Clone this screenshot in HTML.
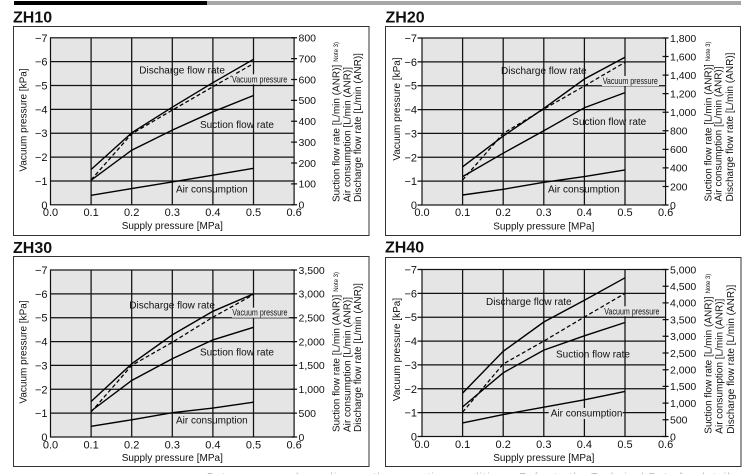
<!DOCTYPE html>
<html>
<head>
<meta charset="utf-8">
<style>
  html,body{margin:0;padding:0;background:#fff;}
  body{width:750px;height:474px;overflow:hidden;}
  svg{display:block;font-family:"Liberation Sans",Arial,sans-serif;}
  .t{font-size:11px;fill:#111;}
  .r{font-size:10.5px;fill:#111;}
  .l{font-size:10px;fill:#111;}
  .title{font-size:16px;font-weight:bold;fill:#111;}
  .grid{stroke:#111;stroke-width:1.25;fill:none;}
  .c{stroke:#000;stroke-width:1.4;fill:none;}
  .d{stroke:#000;stroke-width:1.25;fill:none;stroke-dasharray:4 2.5;}
</style>
</head>
<body>
<svg width="750" height="474" viewBox="0 0 750 474" xmlns="http://www.w3.org/2000/svg">
  <!-- top bar -->
  <rect x="14" y="1" width="193" height="4" fill="#000"/>
  <rect x="207" y="1" width="534" height="4" fill="#a6a6a6"/>

  <!-- boxes -->
  <rect x="13.5" y="26.5" width="355.5" height="209" fill="none" stroke="#333" stroke-width="1"/>
  <rect x="385.5" y="26.5" width="355" height="209" fill="none" stroke="#333" stroke-width="1"/>
  <rect x="13.5" y="256.5" width="355.5" height="210" fill="none" stroke="#333" stroke-width="1"/>
  <rect x="385.5" y="257.5" width="355.5" height="209" fill="none" stroke="#333" stroke-width="1"/>

  <!-- titles -->
  <text class="title" x="13" y="22.5">ZH10</text>
  <text class="title" x="385.5" y="22.5">ZH20</text>
  <text class="title" x="13" y="253">ZH30</text>
  <text class="title" x="385" y="252.7">ZH40</text>

  <!-- Y axis titles -->
  <text class="l" text-anchor="middle" transform="translate(26.5,120) rotate(-90)">Vacuum pressure [kPa]</text>
  <text class="l" text-anchor="middle" transform="translate(400,109) rotate(-90)">Vacuum pressure [kPa]</text>
  <text class="l" text-anchor="middle" transform="translate(26.5,352) rotate(-90)">Vacuum pressure [kPa]</text>
  <text class="l" text-anchor="middle" transform="translate(400,349.5) rotate(-90)">Vacuum pressure [kPa]</text>

  <!-- right axis titles -->
  <text class="l" transform="translate(339.5,202) rotate(-90)">Suction flow rate [L/min (ANR)]<tspan dx="3" dy="-1.5" font-size="6">Note 3)</tspan></text>
  <text class="l" transform="translate(350.5,202) rotate(-90)">Air consumption [L/min (ANR)]</text>
  <text class="l" transform="translate(361,202) rotate(-90)">Discharge flow rate [L/min (ANR)]</text>

  <text class="l" transform="translate(711.5,201.5) rotate(-90)">Suction flow rate [L/min (ANR)]<tspan dx="3" dy="-1.5" font-size="6">Note 3)</tspan></text>
  <text class="l" transform="translate(721.5,201.5) rotate(-90)">Air consumption [L/min (ANR)]</text>
  <text class="l" transform="translate(733,201.5) rotate(-90)">Discharge flow rate [L/min (ANR)]</text>

  <text class="l" transform="translate(339.5,432) rotate(-90)">Suction flow rate [L/min (ANR)]<tspan dx="3" dy="-1.5" font-size="6">Note 3)</tspan></text>
  <text class="l" transform="translate(350.7,432) rotate(-90)">Air consumption [L/min (ANR)]</text>
  <text class="l" transform="translate(361,432) rotate(-90)">Discharge flow rate [L/min (ANR)]</text>

  <text class="l" transform="translate(711.5,433.7) rotate(-90)">Suction flow rate [L/min (ANR)]<tspan dx="3" dy="-1.5" font-size="6">Note 3)</tspan></text>
  <text class="l" transform="translate(722.5,433.7) rotate(-90)">Air consumption [L/min (ANR)]</text>
  <text class="l" transform="translate(734,433.7) rotate(-90)">Discharge flow rate [L/min (ANR)]</text>

  <!-- ================= ZH10 ================= -->
  <g transform="translate(50.5,204.8)">
    <rect x="0" y="-167" width="243.6" height="167" fill="#e5e5e5"/>
    <path class="grid" d="M40.6 -167V0M81.2 -167V0M121.8 -167V0M162.4 -167V0M203 -167V0M0 -23.86H243.6M0 -47.71H243.6M0 -71.57H243.6M0 -95.43H243.6M0 -119.29H243.6M0 -143.14H243.6"/>
    <rect x="0" y="-167" width="243.6" height="167" fill="none" stroke="#111" stroke-width="1.2"/>
    <path class="grid" d="M240.6 0H246.6M240.6 -20.88H246.6M240.6 -41.75H246.6M240.6 -62.63H246.6M240.6 -83.5H246.6M240.6 -104.38H246.6M240.6 -125.25H246.6M240.6 -146.13H246.6M240.6 -167H246.6"/>
    <g class="t" text-anchor="end">
      <text x="-3" y="4">0</text>
      <text x="-3" y="-19.86">−1</text>
      <text x="-3" y="-43.71">−2</text>
      <text x="-3" y="-67.57">−3</text>
      <text x="-3" y="-91.43">−4</text>
      <text x="-3" y="-115.29">−5</text>
      <text x="-3" y="-139.14">−6</text>
      <text x="-3" y="-163">−7</text>
    </g>
    <g class="t" text-anchor="middle">
      <text x="0" y="11">0.0</text>
      <text x="40.6" y="11">0.1</text>
      <text x="81.2" y="11">0.2</text>
      <text x="121.8" y="11">0.3</text>
      <text x="162.4" y="11">0.4</text>
      <text x="203" y="11">0.5</text>
      <text x="243.6" y="11">0.6</text>
    </g>
    <text class="l" x="121.8" y="24.3" text-anchor="middle">Supply pressure [MPa]</text>
    <g class="r">
      <text x="248" y="3.8">0</text>
      <text x="248" y="-17.08">100</text>
      <text x="248" y="-37.95">200</text>
      <text x="248" y="-58.83">300</text>
      <text x="248" y="-79.7">400</text>
      <text x="248" y="-100.58">500</text>
      <text x="248" y="-121.45">600</text>
      <text x="248" y="-142.33">700</text>
      <text x="248" y="-163.2">800</text>
    </g>
    <polyline class="c" points="40.6,-35.3 81.2,-72.0 121.8,-97.6 162.4,-122.1 203,-145.5"/>
    <polyline class="d" points="40.6,-25.0 81.2,-70.9 121.8,-94.7 162.4,-118.1 203,-141.2"/>
    <polyline class="c" points="40.6,-24.6 81.2,-54.6 121.8,-74.7 162.4,-93.0 203,-109.3"/>
    <polyline class="c" points="40.6,-9.5 81.2,-16.2 121.8,-22.9 162.4,-29.6 203,-36.5"/>
    <text class="l" x="88.8" y="-131.3">Discharge flow rate</text>
    <rect x="181" y="-130.5" width="57" height="10" fill="#e5e5e5"/>
    <text font-size="9.5" fill="#111" transform="translate(181.5,-122.3) scale(0.75,1)">Vacuum pressure</text>
    <text class="l" x="149.5" y="-76.8">Suction flow rate</text>
    <text class="l" x="125.5" y="-12.5">Air consumption</text>
  </g>

  <!-- ================= ZH20 ================= -->
  <g transform="translate(422,205)">
    <rect x="0" y="-167" width="243.6" height="167" fill="#e5e5e5"/>
    <path class="grid" d="M40.6 -167V0M81.2 -167V0M121.8 -167V0M162.4 -167V0M203 -167V0M0 -23.86H243.6M0 -47.71H243.6M0 -71.57H243.6M0 -95.43H243.6M0 -119.29H243.6M0 -143.14H243.6"/>
    <rect x="0" y="-167" width="243.6" height="167" fill="none" stroke="#111" stroke-width="1.2"/>
    <path class="grid" d="M-4.5 0H0M-4.5 -23.86H0M-4.5 -47.71H0M-4.5 -71.57H0M-4.5 -95.43H0M-4.5 -119.29H0M-4.5 -143.14H0M-4.5 -167H0"/>
    <path class="grid" d="M240.6 0H246.6M240.6 -18.56H246.6M240.6 -37.11H246.6M240.6 -55.67H246.6M240.6 -74.22H246.6M240.6 -92.78H246.6M240.6 -111.33H246.6M240.6 -129.89H246.6M240.6 -148.44H246.6M240.6 -167H246.6"/>
    <g class="t" text-anchor="end">
      <text x="-5" y="4">0</text>
      <text x="-5" y="-19.86">−1</text>
      <text x="-5" y="-43.71">−2</text>
      <text x="-5" y="-67.57">−3</text>
      <text x="-5" y="-91.43">−4</text>
      <text x="-5" y="-115.29">−5</text>
      <text x="-5" y="-139.14">−6</text>
      <text x="-5" y="-163">−7</text>
    </g>
    <g class="t" text-anchor="middle">
      <text x="0" y="11">0.0</text>
      <text x="40.6" y="11">0.1</text>
      <text x="81.2" y="11">0.2</text>
      <text x="121.8" y="11">0.3</text>
      <text x="162.4" y="11">0.4</text>
      <text x="203" y="11">0.5</text>
      <text x="243.6" y="11">0.6</text>
    </g>
    <text class="l" x="121.8" y="24.3" text-anchor="middle">Supply pressure [MPa]</text>
    <g class="r">
      <text x="248" y="3.8">0</text>
      <text x="248" y="-14.76">200</text>
      <text x="248" y="-33.31">400</text>
      <text x="248" y="-51.87">600</text>
      <text x="248" y="-70.42">800</text>
      <text x="248" y="-88.98">1,000</text>
      <text x="248" y="-107.53">1,200</text>
      <text x="248" y="-126.09">1,400</text>
      <text x="248" y="-144.64">1,600</text>
      <text x="248" y="-163.2">1,800</text>
    </g>
    <polyline class="c" points="40.6,-38.2 81.2,-68.9 121.8,-96.6 162.4,-126.0 203,-147.7"/>
    <polyline class="d" points="40.6,-25.0 81.2,-71.6 121.8,-95.9 162.4,-119.0 203,-142.7"/>
    <polyline class="c" points="40.6,-28.4 81.2,-51.8 121.8,-74.2 162.4,-97.3 203,-112.4"/>
    <polyline class="c" points="40.6,-10.0 81.2,-15.7 121.8,-22.7 162.4,-28.4 203,-35.1"/>
    <text class="l" x="79" y="-130.8">Discharge flow rate</text>
    <rect x="180" y="-129" width="57" height="10" fill="#e5e5e5"/>
    <text font-size="9.5" fill="#111" transform="translate(180.7,-121) scale(0.75,1)">Vacuum pressure</text>
    <text class="l" x="150.3" y="-80">Suction flow rate</text>
    <text class="l" x="126" y="-12.7">Air consumption</text>
  </g>

  <!-- ================= ZH30 ================= -->
  <g transform="translate(50.5,437)">
    <rect x="0" y="-167" width="243.6" height="167" fill="#e5e5e5"/>
    <path class="grid" d="M40.6 -167V0M81.2 -167V0M121.8 -167V0M162.4 -167V0M203 -167V0M0 -23.86H243.6M0 -47.71H243.6M0 -71.57H243.6M0 -95.43H243.6M0 -119.29H243.6M0 -143.14H243.6"/>
    <rect x="0" y="-167" width="243.6" height="167" fill="none" stroke="#111" stroke-width="1.2"/>
    <path class="grid" d="M240.6 0H246.6M240.6 -23.86H246.6M240.6 -47.71H246.6M240.6 -71.57H246.6M240.6 -95.43H246.6M240.6 -119.29H246.6M240.6 -143.14H246.6M240.6 -167H246.6"/>
    <g class="t" text-anchor="end">
      <text x="-3" y="4">0</text>
      <text x="-3" y="-19.86">−1</text>
      <text x="-3" y="-43.71">−2</text>
      <text x="-3" y="-67.57">−3</text>
      <text x="-3" y="-91.43">−4</text>
      <text x="-3" y="-115.29">−5</text>
      <text x="-3" y="-139.14">−6</text>
      <text x="-3" y="-163">−7</text>
    </g>
    <g class="t" text-anchor="middle">
      <text x="0" y="11.3">0.0</text>
      <text x="40.6" y="11.3">0.1</text>
      <text x="81.2" y="11.3">0.2</text>
      <text x="121.8" y="11.3">0.3</text>
      <text x="162.4" y="11.3">0.4</text>
      <text x="203" y="11.3">0.5</text>
      <text x="243.6" y="11.3">0.6</text>
    </g>
    <text class="l" x="121.8" y="24" text-anchor="middle">Supply pressure [MPa]</text>
    <g class="r">
      <text x="248" y="3.8">0</text>
      <text x="248" y="-20.06">500</text>
      <text x="248" y="-43.91">1,000</text>
      <text x="248" y="-67.77">1,500</text>
      <text x="248" y="-91.63">2,000</text>
      <text x="248" y="-115.49">2,500</text>
      <text x="248" y="-139.34">3,000</text>
      <text x="248" y="-163.2">3,500</text>
    </g>
    <polyline class="c" points="40.6,-35.5 81.2,-73.2 121.8,-102.1 162.4,-125.7 203,-143.1"/>
    <polyline class="d" points="40.6,-25.0 81.2,-71.6 121.8,-94.7 162.4,-119.8 203,-142.4"/>
    <polyline class="c" points="40.6,-26.0 81.2,-56.5 121.8,-78.3 162.4,-97.1 203,-109.7"/>
    <polyline class="c" points="40.6,-10.7 81.2,-17.2 121.8,-24.3 162.4,-28.9 203,-34.8"/>
    <text class="l" x="78.8" y="-128.7">Discharge flow rate</text>
    <rect x="181.3" y="-129.3" width="57" height="10" fill="#e5e5e5"/>
    <text font-size="9.5" fill="#111" transform="translate(181.8,-121.3) scale(0.75,1)">Vacuum pressure</text>
    <text class="l" x="149.5" y="-81.4">Suction flow rate</text>
    <text class="l" x="125.5" y="-13.4">Air consumption</text>
  </g>

  <!-- ================= ZH40 ================= -->
  <g transform="translate(422,436.5)">
    <rect x="0" y="-167" width="243.6" height="167" fill="#e5e5e5"/>
    <path class="grid" d="M40.6 -167V0M81.2 -167V0M121.8 -167V0M162.4 -167V0M203 -167V0M0 -23.86H243.6M0 -47.71H243.6M0 -71.57H243.6M0 -95.43H243.6M0 -119.29H243.6M0 -143.14H243.6"/>
    <rect x="0" y="-167" width="243.6" height="167" fill="none" stroke="#111" stroke-width="1.2"/>
    <path class="grid" d="M-4.5 0H0M-4.5 -23.86H0M-4.5 -47.71H0M-4.5 -71.57H0M-4.5 -95.43H0M-4.5 -119.29H0M-4.5 -143.14H0M-4.5 -167H0"/>
    <path class="grid" d="M240.6 0H246.6M240.6 -16.7H246.6M240.6 -33.4H246.6M240.6 -50.1H246.6M240.6 -66.8H246.6M240.6 -83.5H246.6M240.6 -100.2H246.6M240.6 -116.9H246.6M240.6 -133.6H246.6M240.6 -150.3H246.6M240.6 -167H246.6"/>
    <g class="t" text-anchor="end">
      <text x="-5" y="4">0</text>
      <text x="-5" y="-19.86">−1</text>
      <text x="-5" y="-43.71">−2</text>
      <text x="-5" y="-67.57">−3</text>
      <text x="-5" y="-91.43">−4</text>
      <text x="-5" y="-115.29">−5</text>
      <text x="-5" y="-139.14">−6</text>
      <text x="-5" y="-163">−7</text>
    </g>
    <g class="t" text-anchor="middle">
      <text x="0" y="11.5">0.0</text>
      <text x="40.6" y="11.5">0.1</text>
      <text x="81.2" y="11.5">0.2</text>
      <text x="121.8" y="11.5">0.3</text>
      <text x="162.4" y="11.5">0.4</text>
      <text x="203" y="11.5">0.5</text>
      <text x="243.6" y="11.5">0.6</text>
    </g>
    <text class="l" x="121.8" y="24.3" text-anchor="middle">Supply pressure [MPa]</text>
    <g class="r">
      <text x="248" y="3.8">0</text>
      <text x="248" y="-12.9">500</text>
      <text x="248" y="-29.6">1,000</text>
      <text x="248" y="-46.3">1,500</text>
      <text x="248" y="-63">2,000</text>
      <text x="248" y="-79.7">2,500</text>
      <text x="248" y="-96.4">3,000</text>
      <text x="248" y="-113.1">3,500</text>
      <text x="248" y="-129.8">4,000</text>
      <text x="248" y="-146.5">4,500</text>
      <text x="248" y="-163.2">5,000</text>
    </g>
    <polyline class="c" points="40.6,-43.4 81.2,-85.2 121.8,-114.5 162.4,-136.2 203,-158.7"/>
    <polyline class="d" points="40.6,-24.3 81.2,-72.5 121.8,-95.4 162.4,-119.5 203,-143.1"/>
    <polyline class="c" points="40.6,-29.6 81.2,-63.7 121.8,-86.4 162.4,-100.7 203,-114.0"/>
    <polyline class="c" points="40.6,-13.6 81.2,-21.9 121.8,-29.3 162.4,-36.7 203,-45.1"/>
    <text class="l" x="64" y="-131.5">Discharge flow rate</text>
    <rect x="181.8" y="-130.2" width="57" height="10" fill="#e5e5e5"/>
    <text font-size="9.5" fill="#111" transform="translate(182.3,-122.2) scale(0.75,1)">Vacuum pressure</text>
    <text class="l" x="134" y="-79.2">Suction flow rate</text>
    <rect x="126.7" y="-28.5" width="74" height="11" fill="#e5e5e5"/>
    <text class="l" x="128.7" y="-20.2">Air consumption</text>
  </g>

  <!-- faint cut-off text at bottom (only the tops visible) -->
  <text x="207" y="480" font-size="10" fill="#b0b0b0" textLength="533">Data may vary depending on the operating conditions. Refer to the Technical Data for details.</text>
</svg>
</body>
</html>
